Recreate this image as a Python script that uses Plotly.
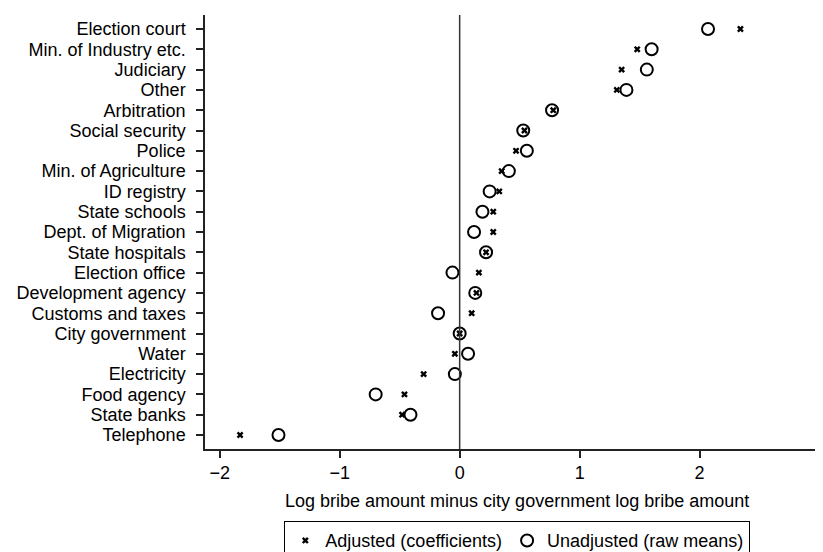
import plotly.graph_objects as go

agencies = [
    "Election court", "Min. of Industry etc.", "Judiciary", "Other", "Arbitration",
    "Social security", "Police", "Min. of Agriculture", "ID registry", "State schools",
    "Dept. of Migration", "State hospitals", "Election office", "Development agency",
    "Customs and taxes", "City government", "Water", "Electricity", "Food agency",
    "State banks", "Telephone",
]
adjusted = [
    2.34, 1.48, 1.35, 1.31, 0.78,
    0.54, 0.47, 0.35, 0.33, 0.28,
    0.28, 0.22, 0.16, 0.14,
    0.10, 0.0, -0.04, -0.30, -0.46,
    -0.48, -1.83,
]
unadjusted = [
    2.07, 1.60, 1.56, 1.39, 0.77,
    0.53, 0.56, 0.41, 0.25, 0.19,
    0.12, 0.22, -0.06, 0.13,
    -0.18, 0.0, 0.07, -0.04, -0.70,
    -0.41, -1.51,
]
x_ticks = [-2, -1, 0, 1, 2, 3]
x_ticktext = ["\u22122", "\u22121", "0", "1", "2", "3"]

FONT = "Liberation Sans, Arial, sans-serif"
order = agencies[::-1]

fig = go.Figure()
fig.add_trace(go.Scatter(
    x=adjusted, y=agencies, mode="markers", name="Adjusted (coefficients)",
    marker=dict(symbol="x", size=6, color="black", line=dict(width=0)),
))
fig.add_trace(go.Scatter(
    x=unadjusted, y=agencies, mode="markers", name="Unadjusted (raw means)",
    marker=dict(symbol="circle-open", size=12, color="black", line=dict(width=2, color="black")),
))

# reference line at zero
fig.add_shape(type="line", xref="x", yref="paper", x0=0, x1=0, y0=0, y1=1,
              line=dict(color="#333333", width=1.5))

fig.add_annotation(
    text="Log bribe amount minus city government log bribe amount",
    xref="paper", yref="paper", x=0.5, y=-0.12, showarrow=False,
    xanchor="center", yanchor="middle", font=dict(size=18, color="black", family=FONT),
)

fig.update_xaxes(
    range=[-2.1225, 3.07], tickvals=x_ticks, ticktext=x_ticktext,
    showgrid=False, zeroline=False, showline=True, linecolor="#222222", linewidth=1.5,
    ticks="outside", ticklen=7, tickwidth=1.5, tickcolor="#222222",
    tickfont=dict(size=18, color="black", family=FONT),
)
fig.update_yaxes(
    type="category", categoryorder="array", categoryarray=order, range=[-0.69, 20.69],
    tickmode="array", tickvals=order, ticktext=order, ticklabelstandoff=7,
    showgrid=False, zeroline=False, showline=True, linecolor="#222222", linewidth=1.5,
    ticks="outside", ticklen=7, tickwidth=1.5, tickcolor="#222222",
    tickfont=dict(size=18, color="black", family=FONT),
)

fig.update_layout(
    width=823, height=552,
    margin=dict(l=197, r=3, t=7, b=111, autoexpand=False),
    plot_bgcolor="white", paper_bgcolor="white",
    font=dict(family=FONT, color="black", size=18),
    legend=dict(
        orientation="h", x=0.501, xanchor="center", y=-0.166, yanchor="top",
        bordercolor="black", borderwidth=1.2, itemwidth=30,
        font=dict(size=18, color="black", family=FONT),
    ),
)

fig.write_html("out.html")
